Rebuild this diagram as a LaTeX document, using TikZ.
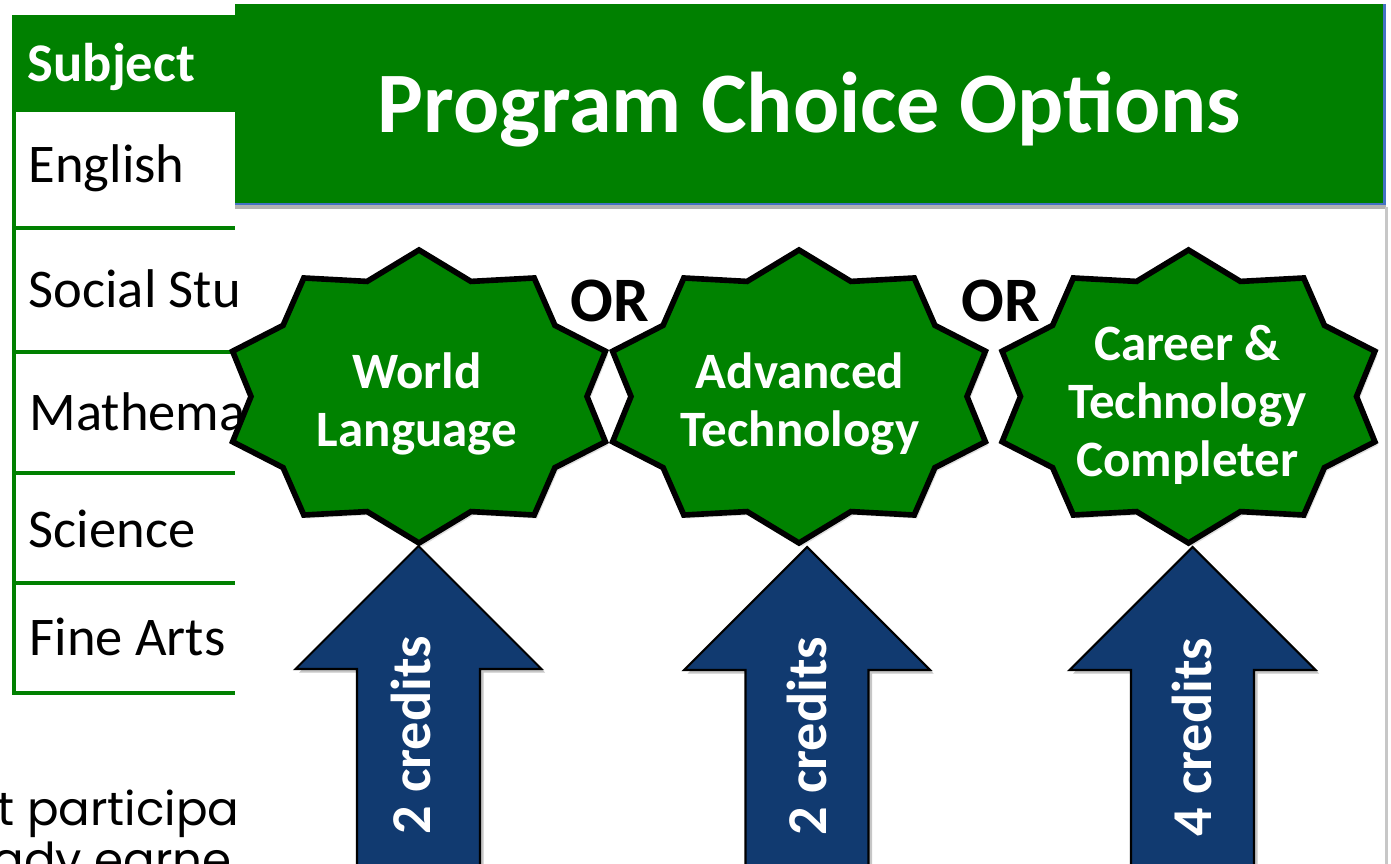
\documentclass[tikz,border=0pt]{standalone}
\usepackage{fontspec}
\setmainfont{Carlito}
\newfontfamily\gothic{Poppins}
\usetikzlibrary{shadows}
\definecolor{tablegreen}{RGB}{0,128,0}
\definecolor{stargreen}{RGB}{0,130,0}
\definecolor{navy}{RGB}{17,58,112}
\definecolor{edgeblue}{RGB}{68,114,196}
\tikzset{
  rowline/.style={draw=tablegreen, line width=1.2pt},
  cell/.style={anchor=base west, inner sep=0pt, font=\fontsize{15.5}{18}\selectfont},
  starshape/.style={fill=stargreen, draw=black, line width=1.6pt,
    drop shadow={shadow xshift=0.8pt, shadow yshift=-1pt, opacity=0.25}},
  startext/.style={text=white, align=center, inner sep=0pt,
    font=\bfseries\fontsize{14.5}{16.5}\selectfont},
  ortext/.style={anchor=base, inner sep=0pt, font=\bfseries\fontsize{18}{20}\selectfont},
  creditarrow/.style={fill=navy, draw=black, line width=0.6pt,
    drop shadow={shadow xshift=1pt, shadow yshift=-1pt, opacity=0.45}},
  credittext/.style={text=white, rotate=90, inner sep=0pt,
    font=\bfseries\fontsize{16}{18}\selectfont},
  bodytext/.style={anchor=base west, inner sep=0pt, font=\gothic\fontsize{13.3}{16}\selectfont},
}
% ten point star round a named coordinate
\newcommand{\tenstar}[1]{%
  \draw[starshape] (#1) +(90:196 and 146.5)
    \foreach \k in {0,...,8} { -- +(108+36*\k:168 and 121) -- +(126+36*\k:196 and 146.5) }
    -- +(72:168 and 121) -- cycle;}
\begin{document}
\begin{tikzpicture}[x=0.01cm, y=-0.01cm]
  \useasboundingbox (0,0) rectangle (1391,864);
  \clip (0,0) rectangle (1391,864);
  % subject table
  \fill[tablegreen] (12,15) rectangle (235,108);
  \foreach \y in {110,228,352,473,583,693}
    \draw[rowline] (12,\y) -- (235,\y);
  \draw[rowline] (14,15) -- (14,695);
  \node[cell, text=white, font=\bfseries\fontsize{15.5}{18}\selectfont] (subj) at (27,82) {Subject};
  \node[cell] (eng) at (28,183) {English};
  \node[cell] (soc) at (28,308) {Social Stu};
  \node[cell] (mat) at (29,431) {Mathema};
  \node[cell] (sci) at (28,547) {Science};
  \node[cell] (fin) at (29,655) {Fine Arts};
  % text below the table
  \node[bodytext] (line1) at (-3,825) {t participa};
  \node[bodytext] (line2) at (-8,876) {ady earne};
  % title bar
  \draw[black!30, line width=0.9pt] (235,207) -- (1386,207);
  \draw[black!22, line width=0.9pt] (1386.5,207) -- (1386.5,864);
  \fill[tablegreen] (235,4) rectangle (1384,204);
  \draw[edgeblue, line width=0.6pt] (235,204) -- (1384.5,204) -- (1384.5,4);
  \node[anchor=base, text=white, inner sep=0pt, font=\bfseries\fontsize{24.5}{28}\selectfont]
    (title) at (809.5,133) {Program Choice Options};
  % the three options
  \coordinate (s1) at (419,396.5);
  \coordinate (s2) at (799,396.5);
  \coordinate (s3) at (1188.5,396.5);
  \tenstar{s1}
  \tenstar{s2}
  \tenstar{s3}
  \node[startext] (wl) at (417,404) {World\\Language};
  \node[startext] (at) at (800,404) {Advanced\\Technology};
  \node[startext] (ct) at (1187.5,405) {Career \&\\Technology\\Completer};
  \node[ortext] (or1) at (610,322) {OR};
  \node[ortext] (or2) at (1001,322) {OR};
  % credit arrows
  \draw[creditarrow] (418.5,546) -- ++(123,123) -- ++(-61.5,0) -- ++(0,260)
    -- ++(-123,0) -- ++(0,-260) -- ++(-61.5,0) -- cycle;
  \draw[creditarrow] (807,547) -- ++(123,123) -- ++(-61.5,0) -- ++(0,260)
    -- ++(-123,0) -- ++(0,-260) -- ++(-61.5,0) -- cycle;
  \draw[creditarrow] (1192.5,547) -- ++(123,123) -- ++(-61.5,0) -- ++(0,260)
    -- ++(-123,0) -- ++(0,-260) -- ++(-61.5,0) -- cycle;
  \node[credittext] (cr1) at (411,735) {2 credits};
  \node[credittext] (cr2) at (806.5,736) {2 credits};
  \node[credittext] (cr3) at (1191.5,737) {4 credits};
\end{tikzpicture}
\end{document}
